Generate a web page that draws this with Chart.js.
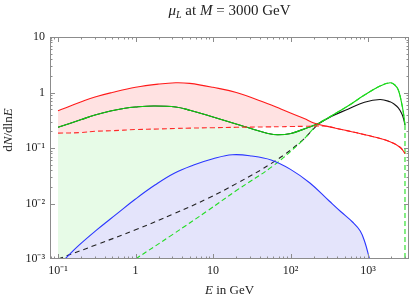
<!DOCTYPE html>
<html>
<head>
<meta charset="utf-8">
<script src="https://cdn.jsdelivr.net/npm/chart.js@4.4.1/dist/chart.umd.min.js"></script>
<style>
  html, body { margin: 0; padding: 0; background: #fff; }
  #wrap { position: relative; width: 417px; height: 301px; font-family: "Liberation Serif", "Times New Roman", serif; color: #222; }
  #chartCanvas { position: absolute; left: 0; top: 0; }
  #title { position: absolute; left: 50px; width: 359px; top: 2px; text-align: center; font-size: 15px; }
  #xlabel { position: absolute; left: 50px; width: 359px; top: 282px; text-align: center; font-size: 13px; }
  #ylabel { position: absolute; left: -52px; top: 122px; width: 120px; height: 16px; line-height: 16px;
            text-align: center; font-size: 13px; transform: rotate(-90deg); }
  sub { font-size: 10px; vertical-align: -3px; line-height: 0; }
</style>
</head>
<body>
<div id="wrap">
  <canvas id="chartCanvas" width="417" height="301"></canvas>
  <div id="title"><i>μ</i><sub><i>L</i></sub> at <i>M</i> = 3000 GeV</div>
  <div id="xlabel"><i>E</i> in GeV</div>
  <div id="ylabel">d<i>N</i>/dln<i>E</i></div>
</div>
<script>
// energies (GeV) and dN/dlnE
const eRed = [0.1, 0.2, 0.3, 0.5, 1, 2, 3.3, 5, 10, 20, 50, 75, 100, 150, 200, 300, 440, 1170, 1925, 2590, 3000];
const redTotal = [0.47, 0.68, 0.83, 1.0, 1.24, 1.42, 1.5, 1.46, 1.24, 1.0, 0.634, 0.504, 0.427, 0.34, 0.282, 0.245, 0.218, 0.16, 0.13, 0.103, 0.08];
const redPart = [0.185, 0.19, 0.2, 0.205, 0.215, 0.22, 0.225, 0.228, 0.232, 0.236, 0.24, 0.242, 0.244, 0.246, 0.248, 0.245, 0.218, 0.16, 0.13, 0.103, 0.08];

const eMain = [0.1, 0.2, 0.3, 0.475, 0.7, 1, 1.7, 3.3, 5.15, 10, 23, 33.6, 51, 68.5, 101, 168, 233, 335, 550, 900, 1430, 1925, 2200, 2460, 2720, 2870, 3000];
const greenTotal = [0.236, 0.326, 0.393, 0.464, 0.515, 0.548, 0.571, 0.548, 0.474, 0.362, 0.254, 0.216, 0.183, 0.173, 0.183, 0.234, 0.279, 0.377, 0.571, 0.90, 1.31, 1.5, 1.38, 1.11, 0.64, 0.42, 0.26];
const blackTotal = [0.236, 0.326, 0.393, 0.464, 0.515, 0.548, 0.571, 0.548, 0.474, 0.362, 0.254, 0.216, 0.183, 0.173, 0.183, 0.234, 0.279, 0.37, 0.5, 0.67, 0.75, 0.68, 0.61, 0.53, 0.42, 0.34, 0.26];

const eGreenPart = [1, 3, 8.5, 20, 60, 136, 233, 335, 550, 900, 1430, 1925, 2200, 2460, 2720, 2870, 3000];
const greenPart = [0.001, 0.00275, 0.0074, 0.0171, 0.048, 0.128, 0.279, 0.377, 0.571, 0.90, 1.31, 1.5, 1.38, 1.11, 0.64, 0.42, 0.26];

const eBlackPart = [0.1, 0.32, 1, 3.1, 8.5, 20, 60, 136, 233, 335];
const blackPart = [0.001, 0.00183, 0.00335, 0.0065, 0.0123, 0.0228, 0.0556, 0.13, 0.275, 0.375];

const eBlue = [0.123, 0.178, 0.316, 0.562, 1, 1.78, 3.16, 5.62, 10, 17.8, 31.6, 56.2, 100, 178, 316, 447, 631, 794, 912, 1047];
const blueVals = [0.001, 0.00167, 0.00334, 0.00637, 0.01205, 0.0215, 0.0351, 0.0492, 0.0639, 0.0754, 0.0718, 0.0608, 0.0412, 0.0234, 0.0111, 0.0071, 0.00464, 0.0032, 0.002, 0.001];

const massE = 3000;
const xTicks = [0.1, 1, 10, 100, 1000];
const xTickLabels = ['10⁻¹', '1', '10', '10²', '10³'];
const yTicks = [0.001, 0.01, 0.1, 1, 10];
const yTickLabels = ['10⁻³', '10⁻²', '10⁻¹', '1', '10'];

const X_MIN = 0.0788, X_MAX = 3380, Y_MIN = 0.001, Y_MAX = 10;

const pts = (xs, ys) => xs.map((x, i) => ({ x: x, y: ys[i] }));

const FONT = '"Liberation Serif", "Times New Roman", serif';

// frame + inward ticks on all four sides
const frameTicks = {
  id: 'frameTicks',
  afterDatasetsDraw(chart) {
    const { ctx, chartArea: a, scales: { x, y } } = chart;
    ctx.save();
    ctx.strokeStyle = '#8c8c8c';
    ctx.lineWidth = 1;
    ctx.strokeRect(a.left + 0.5, a.top + 0.5, a.right - a.left - 1, a.bottom - a.top - 1);
    ctx.beginPath();
    for (let d = -2; d <= 4; d++) {
      for (let m = 1; m <= 9; m++) {
        const v = m * Math.pow(10, d);
        const len = m === 1 ? 5 : 2.5;
        if (v >= X_MIN && v <= X_MAX) {
          const px = Math.round(x.getPixelForValue(v)) + 0.5;
          ctx.moveTo(px, a.bottom); ctx.lineTo(px, a.bottom - len);
          ctx.moveTo(px, a.top); ctx.lineTo(px, a.top + len);
        }
        if (v >= Y_MIN && v <= Y_MAX) {
          const py = Math.round(y.getPixelForValue(v)) + 0.5;
          ctx.moveTo(a.left, py); ctx.lineTo(a.left + len, py);
          ctx.moveTo(a.right, py); ctx.lineTo(a.right - len, py);
        }
      }
    }
    ctx.stroke();
    ctx.restore();
  }
};

const line = (data, color, extra) => Object.assign({
  data: data,
  borderColor: color,
  borderWidth: 1.1,
  pointRadius: 0,
  fill: false,
  tension: 0.4
}, extra || {});

const ctx = document.getElementById('chartCanvas').getContext('2d');

new Chart(ctx, {
  type: 'line',
  data: {
    datasets: [
      line(pts(eBlue, blueVals), '#2a36ff', { fill: 'start', backgroundColor: '#e4e4fb' }),
      line(pts(eRed, redTotal), '#ff1a1a', { fill: '+1', backgroundColor: '#ffe2e2' }),
      line(pts(eRed, redPart), '#ff2a2a', { borderDash: [5, 3] }),
      line([{ x: massE, y: greenTotal[greenTotal.length - 1] }, { x: massE, y: Y_MIN }], '#22dd22',
           { borderDash: [5, 3], tension: 0 }),
      line(pts(eGreenPart, greenPart), '#22dd22', { borderDash: [5, 3], fill: 'start', backgroundColor: '#ffffff' }),
      line(pts(eMain, greenTotal), '#10d010', { fill: 'start', backgroundColor: '#e7fbe7' }),
      line(pts(eBlackPart, blackPart), '#222', { borderDash: [5, 4] }),
      line(pts(eMain, blackTotal), '#111')
    ]
  },
  options: {
    responsive: false,
    animation: false,
    layout: { padding: { left: 0, right: 8, top: 37, bottom: 0 } },
    plugins: {
      legend: { display: false },
      tooltip: { enabled: false },
      filler: { drawTime: 'beforeDatasetsDraw' }
    },
    scales: {
      x: {
        type: 'logarithmic',
        min: X_MIN, max: X_MAX,
        grid: { display: false, drawTicks: false },
        border: { display: false },
        afterBuildTicks: s => { s.ticks = xTicks.map(v => ({ value: v })); },
        afterFit: s => { s.height = 42; },
        ticks: {
          autoSkip: false, maxRotation: 0, padding: 5, color: '#222',
          font: { family: FONT, size: 12 },
          callback: v => xTickLabels[xTicks.indexOf(v)]
        }
      },
      y: {
        type: 'logarithmic',
        min: Y_MIN, max: Y_MAX,
        grid: { display: false, drawTicks: false },
        border: { display: false },
        afterBuildTicks: s => { s.ticks = yTicks.map(v => ({ value: v })); },
        afterFit: s => { s.width = 50; },
        ticks: {
          autoSkip: false, padding: 5, color: '#222',
          font: { family: FONT, size: 12 },
          callback: v => yTickLabels[yTicks.indexOf(v)]
        }
      }
    }
  },
  plugins: [frameTicks]
});
</script>
</body>
</html>
